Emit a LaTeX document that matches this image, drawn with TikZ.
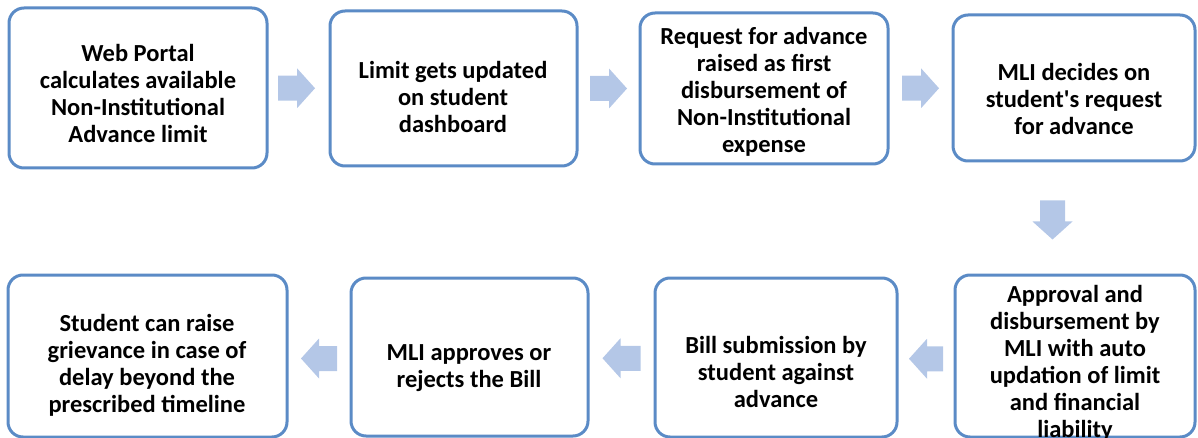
\documentclass[tikz,border=0pt]{standalone}
\usepackage{fontspec}
\setmainfont{Carlito}
\usetikzlibrary{calc}
\definecolor{boxblue}{HTML}{5B8BC6}
\definecolor{arrblue}{HTML}{B4C7E7}
\newcommand{\blockarrow}[4]{% center, rotation, half length, half head width
  \begin{scope}[shift={(#1)},rotate=#2]
    \fill[arrblue] (-#3,-12.5) -- (#3-18,-12.5) -- (#3-18,-#4) -- (#3,0)
      -- (#3-18,#4) -- (#3-18,12.5) -- (-#3,12.5) -- cycle;
  \end{scope}}
\begin{document}
\begin{tikzpicture}[x=1pt,y=-1pt,
  box/.style={draw=boxblue,line width=3pt,rounded corners=15pt,fill=white,inner sep=0pt},
  lbl/.style={font=\bfseries\fontsize{24.5}{27}\selectfont,align=center,inner sep=0pt,text=black}]
\path[use as bounding box] (0,0) rectangle (1198,438);
\clip (0,0) rectangle (1198,438);
% boxes
\node[box,minimum width=258pt,minimum height=160pt] (b1) at (138,88) {};
\node[box,minimum width=247pt,minimum height=155pt] (b2) at (453.5,88.5) {};
\node[box,minimum width=248pt,minimum height=151pt] (b3) at (764,88.5) {};
\node[box,minimum width=242pt,minimum height=146pt] (b4) at (1074,88) {};
\node[box,minimum width=240pt,minimum height=162pt] (b5) at (1075,356) {};
\node[box,minimum width=242pt,minimum height=159pt] (b6) at (776,357.5) {};
\node[box,minimum width=237pt,minimum height=158pt] (b7) at (469.5,357) {};
\node[box,minimum width=279pt,minimum height=162pt] (b8) at (147.5,356) {};
% labels
\node[lbl] (t1) at (138,93) {Web Portal\\calculates available\\Non-Institutional\\Advance limit};
\node[lbl] (t2) at (453,97) {Limit gets updated\\on student\\dashboard};
\node[lbl] (t3) at (764,92) {Request for advance\\raised as first\\disbursement of\\Non-Institutional\\expense};
\node[lbl] (t4) at (1074,99) {MLI decides on\\student\textquotesingle s request\\for advance};
\node[lbl] (t5) at (1075,363) {Approval and\\disbursement by\\MLI with auto\\updation of limit\\and financial\\liability};
\node[lbl] (t6) at (776,372) {Bill submission by\\student against\\advance};
\node[lbl] (t7) at (469,368) {MLI approves or\\rejects the Bill};
\node[lbl] (t8) at (147,365) {Student can raise\\grievance in case of\\delay beyond the\\prescribed timeline};
% arrows
\coordinate (a1) at ($(b1.east)!0.5!(b2.west)+(-2,0)$);
\coordinate (a2) at ($(b2.east)!0.5!(b3.west)$);
\coordinate (a3) at ($(b3.east)!0.5!(b4.west)$);
\coordinate (a4) at ($(b4.south)!0.5!(b5.north)+(-22,2)$);
\coordinate (a5) at ($(b5.west)!0.5!(b6.east)+(0,2)$);
\coordinate (a6) at ($(b6.west)!0.5!(b7.east)+(0,1)$);
\coordinate (a7) at ($(b7.west)!0.5!(b8.east)+(0,2)$);
\blockarrow{a1}{0}{18.5}{20}
\blockarrow{a2}{0}{18.5}{20}
\blockarrow{a3}{0}{18.5}{20}
\blockarrow{a4}{-90}{19.5}{20}
\blockarrow{a5}{180}{17}{20}
\blockarrow{a6}{180}{19}{20}
\blockarrow{a7}{180}{18}{20}
\end{tikzpicture}
\end{document}
